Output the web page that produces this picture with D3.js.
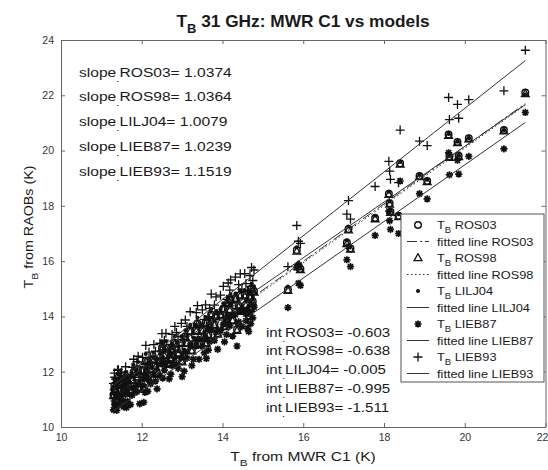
<!DOCTYPE html>
<html>
<head>
<meta charset="utf-8">
<script src="https://cdn.jsdelivr.net/npm/d3@7"></script>
<style>
  body { margin: 0; background: #fff; }
  svg text { font-family: "Liberation Sans", Arial, Helvetica, sans-serif; }
</style>
</head>
<body>
<div id="chart"></div>
<script>
// T_B measured by MWR C1 (x) and T_B computed from RAOBs with each model (y)
var mwrC1 = [11.30, 11.32, 11.35, 11.38, 11.40, 11.42, 11.45, 11.50, 11.55, 11.60, 11.62, 11.65,
	11.72, 11.80, 11.88, 11.95, 12.02, 12.05, 12.10, 12.15, 12.22, 12.30, 12.38, 12.45,
	12.50, 12.52, 12.60, 12.68, 12.75, 12.82, 12.90, 12.98, 13.00, 13.05, 13.12, 13.20,
	13.28, 13.35, 13.42, 13.50, 13.58, 13.60, 13.65, 13.72, 13.80, 13.88, 13.95, 14.02,
	14.10, 14.18, 14.20, 14.25, 14.32, 14.36, 14.40, 14.48, 14.55, 14.62, 14.65, 14.68,
	14.72, 14.75, 14.78,
	15.62, 15.84, 15.88, 15.93, 17.08, 17.12, 17.17, 17.78, 18.12, 18.14, 18.16, 18.36,
	18.40, 18.88, 19.07, 19.60, 19.62, 19.82, 19.85, 20.10, 20.97, 21.50,
	11.33, 11.47, 11.58, 11.76, 11.91, 12.08, 12.18, 12.34, 12.56, 12.72, 12.86, 13.08,
	13.24, 13.38, 13.55, 13.68, 13.84, 14.05, 14.14, 14.44, 14.58, 14.70];

var tbROS03 = [11.17, 11.49, 11.32, 11.15, 11.67, 11.64, 11.37, 11.58, 11.28, 11.73, 11.25, 11.48,
	11.36, 11.99, 11.82, 11.39, 12.06, 11.44, 12.39, 11.84, 12.11, 12.46, 11.94, 12.41,
	12.86, 12.33, 12.87, 12.30, 12.77, 13.05, 12.68, 13.06, 12.38, 12.58, 13.05, 13.48,
	13.01, 13.50, 13.02, 13.50, 13.78, 13.05, 13.35, 14.07, 13.71, 13.39, 14.07, 14.29,
	13.92, 14.25, 14.62, 13.87, 14.66, 13.53, 14.39, 14.22, 14.79, 14.16, 14.04, 14.72,
	15.01, 14.54, 14.92,
	14.97, 16.40, 15.82, 15.72, 16.67, 17.16, 16.46, 17.56, 18.44, 18.09, 17.79, 17.64,
	19.54, 19.08, 18.90, 20.58, 19.78, 20.31, 19.81, 20.45, 20.74, 22.10,
	11.36, 11.54, 11.44, 11.70, 12.10, 11.80, 12.25, 12.22, 12.62, 12.47, 12.83, 13.28,
	12.78, 13.75, 13.25, 13.65, 14.01, 13.66, 14.51, 14.78, 14.43, 14.33];

var tbROS98 = [11.12, 11.44, 11.27, 11.10, 11.62, 11.59, 11.32, 11.53, 11.23, 11.68, 11.20, 11.43,
	11.32, 11.95, 11.78, 11.35, 12.02, 11.40, 12.35, 11.80, 12.07, 12.41, 11.89, 12.36,
	12.81, 12.28, 12.82, 12.25, 12.72, 13.01, 12.64, 13.02, 12.34, 12.54, 13.01, 13.44,
	12.97, 13.45, 12.97, 13.45, 13.73, 13.00, 13.30, 14.02, 13.67, 13.35, 14.03, 14.25,
	13.88, 14.21, 14.58, 13.83, 14.61, 13.48, 14.34, 14.17, 14.74, 14.11, 13.99, 14.67,
	14.96, 14.49, 14.87,
	14.93, 16.35, 15.78, 15.68, 16.62, 17.12, 16.42, 17.52, 18.40, 18.05, 17.75, 17.60,
	19.50, 19.04, 18.86, 20.54, 19.74, 20.27, 19.77, 20.41, 20.70, 22.05,
	11.31, 11.49, 11.39, 11.66, 12.06, 11.76, 12.21, 12.17, 12.57, 12.42, 12.79, 13.24,
	12.74, 13.70, 13.20, 13.60, 13.97, 13.62, 14.47, 14.73, 14.38, 14.28];

var tbLILJ04 = [11.43, 11.75, 11.58, 11.41, 11.93, 11.90, 11.63, 11.84, 11.54, 11.99, 11.51, 11.74,
	11.61, 12.24, 12.07, 11.64, 12.31, 11.69, 12.64, 12.09, 12.36, 12.69, 12.17, 12.64,
	13.09, 12.56, 13.10, 12.53, 13.00, 13.27, 12.90, 13.28, 12.60, 12.80, 13.27, 13.70,
	13.23, 13.70, 13.22, 13.70, 13.98, 13.25, 13.55, 14.27, 13.90, 13.58, 14.26, 14.48,
	14.11, 14.44, 14.81, 14.06, 14.83, 13.70, 14.56, 14.39, 14.96, 14.33, 14.21, 14.89,
	15.18, 14.71, 15.09,
	15.08, 16.50, 15.95, 15.85, 16.76, 17.25, 16.55, 17.64, 18.51, 18.16, 17.85, 17.70,
	19.59, 19.12, 18.94, 20.60, 19.80, 20.32, 19.82, 20.45, 20.73, 22.03,
	11.62, 11.80, 11.70, 11.95, 12.35, 12.05, 12.50, 12.45, 12.85, 12.70, 13.05, 13.50,
	13.00, 13.95, 13.45, 13.85, 14.20, 13.85, 14.70, 14.95, 14.60, 14.50];

var tbLIEB87 = [10.62, 10.94, 10.77, 10.60, 11.12, 11.09, 10.82, 11.03, 10.73, 11.18, 10.70, 10.93,
	10.81, 11.44, 11.27, 10.84, 11.51, 10.89, 11.84, 11.29, 11.56, 11.90, 11.38, 11.85,
	12.30, 11.77, 12.31, 11.74, 12.21, 12.49, 12.12, 12.50, 11.82, 12.02, 12.49, 12.92,
	12.45, 12.93, 12.45, 12.93, 13.21, 12.48, 12.78, 13.50, 13.13, 12.81, 13.49, 13.71,
	13.34, 13.67, 14.04, 13.29, 14.07, 12.93, 13.80, 13.63, 14.20, 13.57, 13.45, 14.13,
	14.42, 13.95, 14.33,
	14.32, 15.78, 15.20, 15.12, 16.05, 16.53, 15.80, 16.93, 17.81, 17.46, 17.15, 17.00,
	18.90, 18.44, 18.25, 19.92, 19.12, 19.65, 19.15, 19.79, 20.06, 21.38,
	10.81, 10.99, 10.89, 11.15, 11.55, 11.25, 11.70, 11.66, 12.06, 11.91, 12.27, 12.72,
	12.22, 13.18, 12.68, 13.08, 13.43, 13.08, 13.93, 14.19, 13.84, 13.74];

var tbLIEB93 = [11.58, 11.95, 11.73, 11.50, 12.05, 12.08, 11.78, 11.99, 11.66, 12.18, 11.69, 11.89,
	11.82, 12.45, 12.36, 11.80, 12.52, 11.90, 12.95, 12.30, 12.52, 12.98, 12.46, 13.03,
	13.38, 12.80, 13.39, 12.82, 13.35, 13.64, 13.27, 13.75, 12.92, 13.17, 13.64, 14.17,
	13.60, 14.14, 13.66, 14.24, 14.42, 13.64, 13.99, 14.81, 14.41, 14.09, 14.77, 15.09,
	14.62, 14.95, 15.32, 14.52, 15.42, 14.29, 15.15, 14.98, 15.55, 14.92, 14.80, 15.48,
	15.77, 15.30, 15.68,
	15.80, 17.29, 16.72, 16.64, 17.70, 18.19, 17.52, 18.70, 19.61, 19.26, 18.96, 18.84,
	20.74, 20.34, 20.18, 21.92, 21.12, 21.67, 21.17, 21.84, 22.16, 23.63,
	11.80, 11.95, 11.85, 12.16, 12.56, 12.26, 12.71, 12.74, 13.14, 12.99, 13.42, 13.87,
	13.37, 14.39, 13.89, 14.29, 14.71, 14.36, 15.21, 15.54, 15.19, 15.09];

var modelNames = ["ROS03", "ROS98", "LILJ04", "LIEB87", "LIEB93"];
var slopes = [1.0374, 1.0364, 1.0079, 1.0239, 1.1519];
var intercepts = [-0.603, -0.638, -0.005, -0.995, -1.511];
var fitRange = [11.3, 21.5];

var xTicks = [10, 12, 14, 16, 18, 20, 22];
var yTicks = [10, 12, 14, 16, 18, 20, 22, 24];

var modelValues = [tbROS03, tbROS98, tbLILJ04, tbLIEB87, tbLIEB93];

// marker and line style per model, same order as modelNames
var markers = ["circle", "triangle", "dot", "star", "plus"];
var dashes = ["10,3,2,3", "1.5,2.5", null, null, null];

var width = 548, height = 470;
var x = d3.scaleLinear().domain([10, 22]).range([61, 545.5]);
var y = d3.scaleLinear().domain([10, 24]).range([427, 40]);

var svg = d3.select("#chart").append("svg")
	.attr("width", width)
	.attr("height", height);

//text with optional subscripts; segs = [[string, isSub], ...]
function addText(parent, px, py, segs, o) {
	var tr = "translate(" + px + "," + py + ")";
	if (o.rot) tr += " rotate(" + o.rot + ")";
	tr += " scale(" + (o.sx || 1) + ",1)";
	var t = parent.append("text")
		.attr("transform", tr)
		.attr("font-size", o.size)
		.attr("font-weight", o.weight || "normal")
		.attr("text-anchor", o.anchor || "start")
		.attr("fill", o.fill || "#1a1a1a");
	var shift = 0;
	segs.forEach(function(s) {
		var want = s[1] ? Math.round(o.size * 0.35) : 0;
		t.append("tspan")
			.attr("dy", want - shift)
			.attr("font-size", s[1] ? o.size * 0.75 : o.size)
			.text(s[0]);
		shift = want;
	});
	return t;
}

function drawMarker(sel, type) {
	if (type == "circle") {
		sel.append("circle").attr("r", 3.3).attr("fill", "none").attr("stroke", "#111").attr("stroke-width", 1.4);
	} else if (type == "triangle") {
		sel.append("path").attr("d", "M0,-4.2L3.9,2.6L-3.9,2.6Z").attr("fill", "none").attr("stroke", "#111").attr("stroke-width", 1.3);
	} else if (type == "dot") {
		sel.append("circle").attr("r", 2).attr("fill", "#111");
	} else if (type == "star") {
		sel.append("path").attr("d", "M-3.6,0H3.6M0,-3.6V3.6M-2.6,-2.6L2.6,2.6M-2.6,2.6L2.6,-2.6")
			.attr("stroke", "#111").attr("stroke-width", 1.7);
	} else {
		sel.append("path").attr("d", "M-4.5,0H4.5M0,-4.5V4.5").attr("stroke", "#111").attr("stroke-width", 1.3);
	}
}

// axes box with inward ticks on all sides
function styleAxis(g) {
	g.select(".domain").attr("stroke", "#666");
	g.selectAll(".tick line").attr("stroke", "#666");
	g.selectAll(".tick text").attr("fill", "#333").attr("font-size", 10.5)
		.attr("font-family", "'Liberation Sans', Arial, sans-serif");
}

var xAxisG = svg.append("g").attr("transform", "translate(0," + y(10) + ")")
	.call(d3.axisBottom(x).tickValues(xTicks).tickSizeInner(-4).tickSizeOuter(0).tickPadding(7).tickFormat(d3.format("d")))
	.call(styleAxis);
// last label sits on the figure edge
xAxisG.selectAll(".tick text").filter(function(d) { return d == 22; }).attr("dx", -3.5);

svg.append("g").attr("transform", "translate(0," + y(24) + ")")
	.call(d3.axisTop(x).tickValues(xTicks).tickSizeInner(-4).tickSizeOuter(0).tickFormat(""))
	.call(styleAxis);
svg.append("g").attr("transform", "translate(" + x(10) + ",0)")
	.call(d3.axisLeft(y).tickValues(yTicks).tickSizeInner(-4).tickSizeOuter(0).tickPadding(7).tickFormat(d3.format("d")))
	.call(styleAxis);
svg.append("g").attr("transform", "translate(" + x(22) + ",0)")
	.call(d3.axisRight(y).tickValues(yTicks).tickSizeInner(-4).tickSizeOuter(0).tickFormat(""))
	.call(styleAxis);

// points and fitted lines, in plotting order
var line = d3.line().x(function(d) { return x(d[0]); }).y(function(d) { return y(d[1]); });

modelNames.forEach(function(name, i) {
	var pts = mwrC1.map(function(v, j) { return [v, modelValues[i][j]]; });
	svg.append("g").attr("class", "pts-" + name)
		.selectAll("g")
		.data(pts)
		.enter()
		.append("g")
		.attr("transform", function(d) { return "translate(" + x(d[0]) + "," + y(d[1]) + ")"; })
		.each(function() { drawMarker(d3.select(this), markers[i]); });

	var ends = fitRange.map(function(v) { return [v, slopes[i] * v + intercepts[i]]; });
	svg.append("path")
		.attr("d", line(ends))
		.attr("fill", "none")
		.attr("stroke", "#333")
		.attr("stroke-width", 1)
		.attr("stroke-dasharray", dashes[i]);
});

// slope and intercept annotations
modelNames.forEach(function(name, i) {
	addText(svg, 79, 76.5 + i * 24.8, [["slope", 0], [".", 1], [name + "= " + slopes[i].toFixed(4), 0]], {size: 13, sx: 1.2});
	addText(svg, 266, 336.5 + i * 18.8, [["int", 0], [".", 1], [name + "= " + intercepts[i].toFixed(3), 0]], {size: 13, sx: 1.16});
});

// legend
var leg = svg.append("g");
leg.append("rect")
	.attr("x", 401).attr("y", 214)
	.attr("width", 143).attr("height", 168)
	.attr("fill", "#fff").attr("stroke", "#555").attr("stroke-width", 1);

modelNames.forEach(function(name, i) {
	var cy1 = 225 + i * 33, cy2 = cy1 + 16.5;
	drawMarker(leg.append("g").attr("transform", "translate(418," + cy1 + ")"), markers[i]);
	addText(leg, 437, cy1 + 4, [["T", 0], ["B", 1], [" " + name, 0]], {size: 11, sx: 1.16});
	leg.append("line")
		.attr("x1", 407).attr("x2", 429).attr("y1", cy2).attr("y2", cy2)
		.attr("stroke", "#333").attr("stroke-width", 1)
		.attr("stroke-dasharray", dashes[i]);
	addText(leg, 437, cy2 + 4, [["fitted line " + name, 0]], {size: 11, sx: 1.16});
});

// title and axis labels
addText(svg, 303, 27, [["T", 0], ["B", 1], [" 31 GHz: MWR C1 vs models", 0]], {size: 16, weight: "bold", anchor: "middle", sx: 1.08});
addText(svg, 303, 461, [["T", 0], ["B", 1], [" from MWR C1 (K)", 0]], {size: 13, anchor: "middle", sx: 1.2});
addText(svg, 33, 227, [["T", 0], ["B", 1], [" from RAOBs (K)", 0]], {size: 13, anchor: "middle", rot: -90, sx: 1.1});
</script>
</body>
</html>
